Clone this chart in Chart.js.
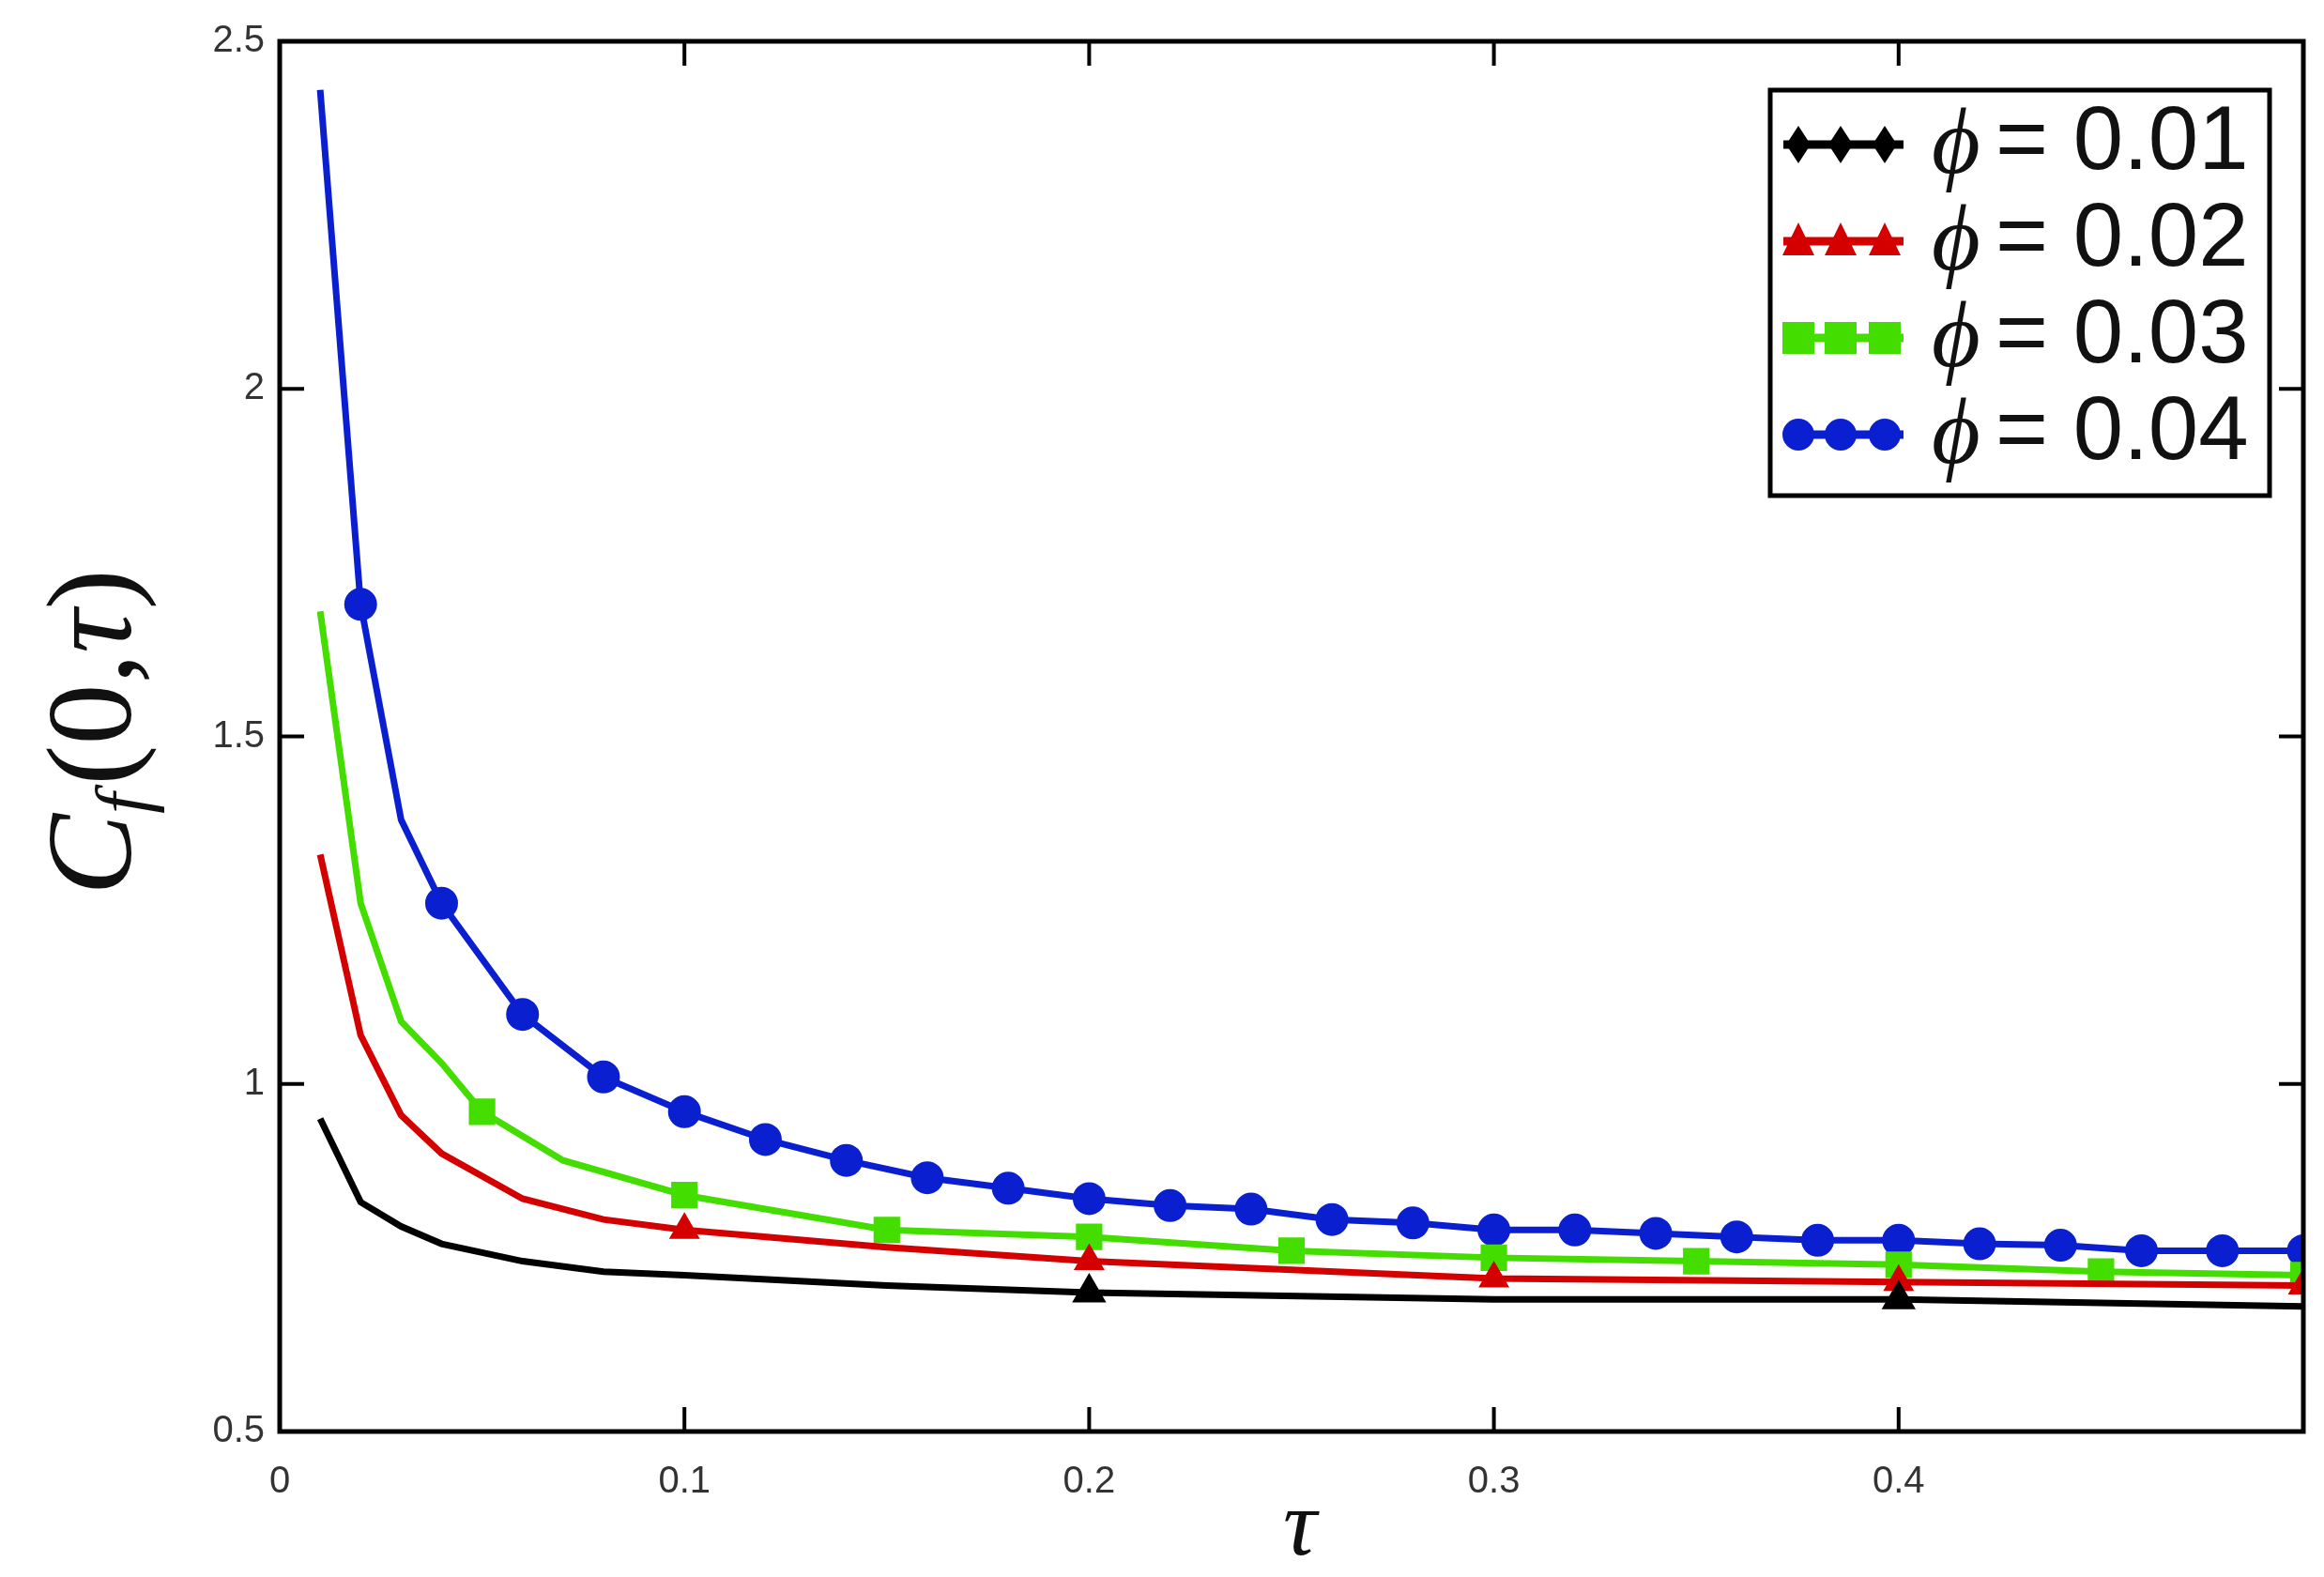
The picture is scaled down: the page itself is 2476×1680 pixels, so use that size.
<!DOCTYPE html>
<html><head><meta charset="utf-8">
<script src="https://cdn.jsdelivr.net/npm/chart.js@4"></script>
<style>html,body{margin:0;padding:0;background:#fff}#w{width:2476px;height:1680px}</style>
</head><body><div id="w"><canvas id="c"></canvas></div>
<script>
const tauBlue = [0.01,0.02,0.03,0.04,0.06,0.08,0.10,0.12,0.14,0.16,0.18,0.20,0.22,0.24,0.26,0.28,0.30,0.32,0.34,0.36,0.38,0.40,0.42,0.44,0.46,0.48,0.50];
const cfBlue  = [2.43,1.69,1.38,1.26,1.10,1.01,0.96,0.92,0.89,0.865,0.85,0.835,0.825,0.82,0.805,0.80,0.79,0.79,0.785,0.78,0.775,0.775,0.77,0.768,0.76,0.76,0.76];
const markBlue = [0.02,0.04,0.06,0.08,0.10,0.12,0.14,0.16,0.18,0.20,0.22,0.24,0.26,0.28,0.30,0.32,0.34,0.36,0.38,0.40,0.42,0.44,0.46,0.48,0.50];
const tauGreen = [0.01,0.02,0.03,0.04,0.05,0.07,0.10,0.15,0.20,0.25,0.30,0.35,0.40,0.45,0.50];
const cfGreen  = [1.68,1.26,1.09,1.03,0.96,0.89,0.84,0.79,0.78,0.76,0.75,0.745,0.74,0.73,0.725];
const markGreen = [0.05,0.10,0.15,0.20,0.25,0.30,0.35,0.40,0.45,0.50];
const tauRed = [0.01,0.02,0.03,0.04,0.06,0.08,0.10,0.15,0.20,0.30,0.40,0.50];
const cfRed  = [1.33,1.07,0.955,0.90,0.835,0.805,0.79,0.765,0.745,0.72,0.715,0.71];
const markRed = [0.10,0.20,0.30,0.40,0.50];
const tauBlack = [0.01,0.02,0.03,0.04,0.06,0.08,0.10,0.15,0.20,0.30,0.40,0.50];
const cfBlack  = [0.95,0.83,0.795,0.77,0.745,0.73,0.725,0.71,0.70,0.69,0.69,0.68];
const markBlack = [0.20,0.40];
const xTicks = [0,0.1,0.2,0.3,0.4];
const yTicks = [0.5,1,1.5,2,2.5];
const legendLabels = ['0.01','0.02','0.03','0.04'];

function pts(t,v){return t.map((x,i)=>({x:x,y:v[i]}));}
function radii(t,m,r){return t.map(x=>m.some(q=>Math.abs(q-x)<1e-9)?r:0);}
const series=[
 {t:tauBlack,v:cfBlack,m:markBlack,c:'#000000',s:'triangle',r:14},
 {t:tauRed,v:cfRed,m:markRed,c:'#d40000',s:'triangle',r:12},
 {t:tauGreen,v:cfGreen,m:markGreen,c:'#44dd00',s:'rect',r:15},
 {t:tauBlue,v:cfBlue,m:markBlue,c:'#0a1fd0',s:'circle',r:14}
];
const datasets=series.map((s,i)=>({label:'ϕ = '+legendLabels[i],data:pts(s.t,s.v),borderColor:s.c,backgroundColor:s.c,
 borderWidth:7,pointStyle:s.s,pointRadius:radii(s.t,s.m,s.r),pointHoverRadius:0,tension:0,order:i}));

const deco={id:'deco',afterDraw(ch){
 const g=ch.ctx,a=ch.chartArea,xs=ch.scales.x,ys=ch.scales.y;
 g.save();g.strokeStyle='#000';g.lineWidth=5;
 g.strokeRect(a.left,a.top,a.right-a.left,a.bottom-a.top);
 g.lineWidth=4;
 xTicks.forEach(v=>{const p=xs.getPixelForValue(v);g.beginPath();g.moveTo(p,a.bottom);g.lineTo(p,a.bottom-26);g.moveTo(p,a.top);g.lineTo(p,a.top+26);g.stroke();});
 yTicks.forEach(v=>{const p=ys.getPixelForValue(v);g.beginPath();g.moveTo(a.left,p);g.lineTo(a.left+26,p);g.moveTo(a.right,p);g.lineTo(a.right-26,p);g.stroke();});
 // legend
 const BX=1886,BY=96,W=2418-BX,H=432;
 g.fillStyle='#fff';g.fillRect(BX,BY,W,H);g.lineWidth=5;g.strokeStyle='#000';g.strokeRect(BX,BY,W,H);
 series.forEach((s,i)=>{const cy=BY+58+i*103;
  g.strokeStyle=s.c;g.lineWidth=9;g.beginPath();g.moveTo(BX+14,cy);g.lineTo(BX+142,cy);g.stroke();
  [BX+30,BX+75,BX+122].forEach(px=>{g.fillStyle=s.c;g.beginPath();
   if(s.s==='circle'){g.arc(px,cy,17,0,Math.PI*2);}
   else if(s.s==='rect'){g.rect(px-17,cy-17,34,34);}
   else if(i===0){g.moveTo(px,cy-20);g.lineTo(px+13,cy);g.lineTo(px,cy+20);g.lineTo(px-13,cy);}
   else {g.moveTo(px,cy-20);g.lineTo(px+17,cy+15);g.lineTo(px-17,cy+15);}
   g.fill();});
  g.fillStyle='#111';g.textBaseline='middle';g.textAlign='left';
  g.font='italic 100px "Liberation Serif"';g.fillText('ϕ',BX+172,cy+4);
  g.font='96px "Liberation Sans Narrow","Liberation Sans"';g.fillText('= '+legendLabels[i],BX+240,cy);
 });
 // axis titles
 g.fillStyle='#111';
 g.save();g.translate(105,780);g.rotate(-Math.PI/2);g.textBaseline='middle';
 g.font='italic 130px "Liberation Serif"';const w1=g.measureText('C').width;
 g.font='italic 80px "Liberation Serif"';const w2=g.measureText('f').width+8;
 g.font='130px "Liberation Serif"';const wz=g.measureText('(0,').width,wp=g.measureText(')').width;
 g.font='italic 130px "Liberation Serif"';const wt=g.measureText('τ').width;
 let x0=-(w1+w2+wz+wt+wp)/2;g.textAlign='left';
 g.font='italic 130px "Liberation Serif"';g.fillText('C',x0,0);
 g.font='italic 80px "Liberation Serif"';g.fillText('f',x0+w1,32);
 g.font='130px "Liberation Serif"';g.fillText('(0,',x0+w1+w2,0);
 g.font='italic 130px "Liberation Serif"';g.fillText('τ',x0+w1+w2+wz,0);
 g.font='130px "Liberation Serif"';g.fillText(')',x0+w1+w2+wz+wt,0);
 g.restore();
 g.textAlign='center';g.textBaseline='middle';g.font='italic 100px "Liberation Serif"';g.fillText('τ',1385,1630);
 g.restore();
}};

new Chart(document.getElementById('c'),{type:'line',data:{datasets},
 options:{responsive:true,maintainAspectRatio:false,animation:false,
  layout:{padding:{top:44,right:13,left:0,bottom:0}},
  plugins:{legend:{display:false},tooltip:{enabled:false}},
  scales:{
   x:{type:'linear',min:0,max:0.5,grid:{display:false},border:{display:false},
      afterBuildTicks:s=>{s.ticks=xTicks.map(v=>({value:v}));},
      afterFit:s=>{s.height=155;},
      ticks:{color:'#333',font:{size:40,family:'"Liberation Sans Narrow","Liberation Sans"'},padding:22,maxRotation:0,callback:v=>String(v)}},
   y:{type:'linear',min:0.5,max:2.5,grid:{display:false},border:{display:false},
      afterBuildTicks:s=>{s.ticks=yTicks.map(v=>({value:v}));},
      afterFit:s=>{s.width=298;},
      ticks:{color:'#333',font:{size:40,family:'"Liberation Sans Narrow","Liberation Sans"'},padding:8,callback:v=>String(v)}}
  }},plugins:[deco]});
</script></body></html>
